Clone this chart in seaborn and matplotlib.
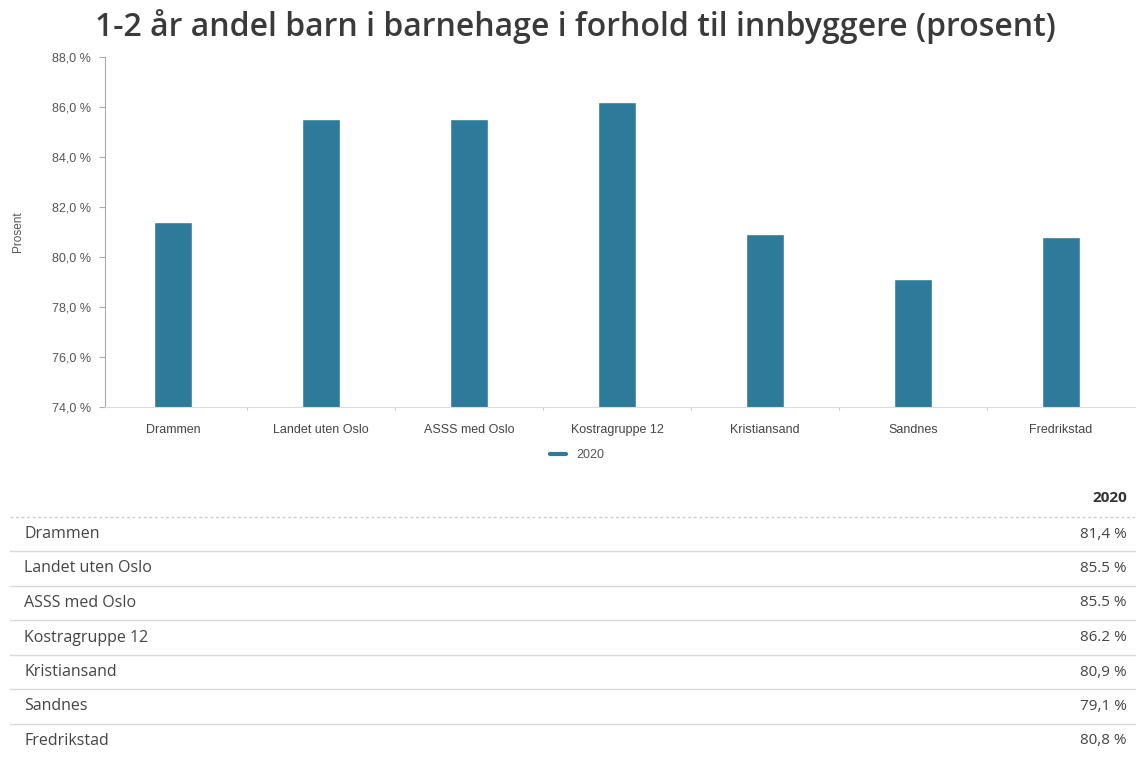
import matplotlib
matplotlib.use("Agg")
import matplotlib.pyplot as plt
from matplotlib.lines import Line2D
import seaborn as sns
import pandas as pd

# ==============================
# Data
# ==============================
kommuner = ["Drammen", "Landet uten Oslo", "ASSS med Oslo", "Kostragruppe 12",
            "Kristiansand", "Sandnes", "Fredrikstad"]
andel_2020 = [81.4, 85.5, 85.5, 86.2, 80.9, 79.1, 80.8]
tabell_tekst = ["81,4 %", "85.5 %", "85.5 %", "86.2 %", "80,9 %", "79,1 %", "80,8 %"]
y_ticks = [74, 76, 78, 80, 82, 84, 86, 88]

BAR_COLOR = "#2e7a9b"
GRAY_TXT = "#555555"

df = pd.DataFrame({"kommune": kommuner, "andel": andel_2020})

sns.set_style("white")
plt.rcParams["font.family"] = ["Liberation Sans", "DejaVu Sans"]

W, H = 1137, 760
fig = plt.figure(figsize=(W / 100, H / 100), dpi=100)

# ==============================
# Bar chart
# ==============================
ax = fig.add_axes([105 / W, 1 - 407 / H, (1135 - 105) / W, (407 - 57) / H])
sns.barplot(data=df, x="kommune", y="andel", color=BAR_COLOR, width=0.26,
            saturation=1, ax=ax)
ax.set_ylim(74, 88)
ax.set_xlim(-0.46, 6.5)
ax.set_yticks(y_ticks)
ax.set_yticklabels([f"{t:.1f} %".replace(".", ",") for t in y_ticks],
                   fontsize=9, color=GRAY_TXT)
ax.set_xticks(range(len(kommuner)))
ax.set_xticklabels(kommuner, fontsize=9, color="#444444")
ax.tick_params(axis="x", length=0, pad=12)
ax.tick_params(axis="y", length=4, width=0.8, color="#aaaaaa", left=True, pad=6)
ax.set_xlabel("")
ax.set_ylabel("Prosent", fontsize=8.5, color=GRAY_TXT, labelpad=20)
for s in ["top", "right"]:
    ax.spines[s].set_visible(False)
ax.spines["left"].set_color("#aaaaaa")
ax.spines["bottom"].set_color("#dddddd")
# small ticks between categories on the x axis
for b in [i + 0.5 for i in range(len(kommuner) - 1)]:
    ax.plot([b, b], [74, 74 - 0.12], color="#cccccc", lw=0.8, clip_on=False)

handle = Line2D([0], [0], color=BAR_COLOR, lw=3)
fig.legend([handle], ["2020"], loc="center", bbox_to_anchor=(577 / W, 1 - 455 / H),
           frameon=False, fontsize=9, handlelength=1.3, labelcolor=GRAY_TXT)

fig.text(575 / W, 1 - 27 / H, "1-2 år andel barn i barnehage i forhold til innbyggere (prosent)",
         ha="center", va="center", fontsize=23, fontweight="semibold",
         color="#3a3a3a", family="Open Sans")

# ==============================
# Table
# ==============================
row_h = 34.5
first_row = 534
fig.text(1127 / W, 1 - 498 / H, "2020", ha="right", va="center", fontsize=11,
         fontweight="bold", color="#333333", family="Open Sans")
fig.add_artist(Line2D([10 / W, 1135 / W], [1 - 517 / H] * 2, color="#cccccc",
                      lw=1, ls=(0, (2, 2))))
for i, (navn, verdi) in enumerate(zip(kommuner, tabell_tekst)):
    yc = first_row + i * row_h
    fig.text(24 / W, 1 - yc / H, navn, ha="left", va="center", fontsize=11.5,
             color="#444444", family="Open Sans")
    fig.text(1127 / W, 1 - yc / H, verdi, ha="right", va="center", fontsize=11,
             color="#444444", family="Open Sans")
    if i < len(kommuner) - 1:
        ys = 1 - (yc + row_h / 2) / H
        fig.add_artist(Line2D([10 / W, 1135 / W], [ys, ys], color="#d9d9d9", lw=1))

fig.savefig("out.png", dpi=100)
